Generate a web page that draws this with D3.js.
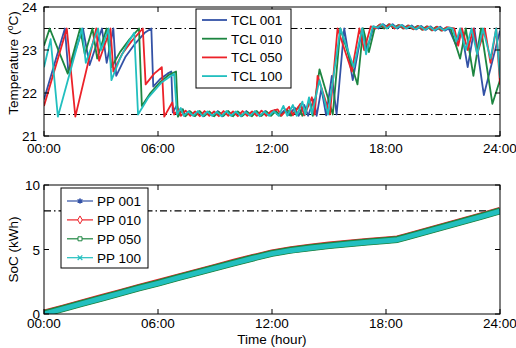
<!DOCTYPE html>
<html><head><meta charset="utf-8">
<script src="https://cdn.jsdelivr.net/npm/d3@7"></script>
<style>body{margin:0;background:#fff}svg{display:block}text{font-family:"Liberation Sans",Arial,sans-serif}</style>
</head><body><svg id="c" width="516" height="348"></svg>
<script>
// ---------- DATA ----------
const tempSeriesNames = ["TCL 001","TCL 010","TCL 050","TCL 100"];
const socSeriesNames = ["PP 001","PP 010","PP 050","PP 100"];
const timeTicks = [0,6,12,18,24];
const timeTickLabels = ["00:00","06:00","12:00","18:00","24:00"];
const tempTicks = [21,22,23,24];
const socTicks = [0,5,10];
const tempBounds = [21.5,23.5];
const socTarget = 8;

// [hour, temperature]
const tcl001 = [[0,21.85],[0.5,22.6],[1.1,23.5],[1.28,22.5],[2.05,23.5],[2.4,22.65],[3.05,23.5],[3.3,22.7],[3.65,23.5],[3.8,22.4],[4.3,22.85],[4.8,23.15],[5.3,23.4],[5.65,23.5],[5.75,22.15],[6.1,22.32],[6.5,22.45],[6.7,22.5],[6.78,21.55],[7.0,21.72],[7.1,21.5],[7.3,21.62],[7.4,21.47],
 [7.65,21.58],[7.9,21.47],[8.15,21.57],[8.4,21.46],[8.65,21.56],[8.9,21.47],[9.15,21.58],[9.4,21.46],[9.65,21.57],[9.9,21.47],[10.15,21.56],[10.4,21.46],[10.65,21.58],[10.9,21.48],[11.15,21.57],[11.4,21.47],[11.65,21.58],[11.9,21.48],
 [12.15,21.6],[12.4,21.48],[12.7,21.62],[12.9,21.48],[13.2,21.66],[13.4,21.47],[13.7,21.72],[13.9,21.47],[14.2,21.85],[14.35,21.47],[14.6,22.1],[14.85,21.48],[15.15,22.4],[15.4,21.5],[15.8,23.5],[16.25,22.3],[16.75,23.5],[17.0,23.0],[17.35,23.55],
 [17.6,23.5],[17.85,23.6],[18.1,23.52],[18.35,23.6],[18.6,23.5],[18.85,23.58],[19.1,23.5],[19.35,23.57],[19.6,23.48],[19.85,23.56],[20.1,23.47],[20.35,23.55],[20.6,23.45],[20.85,23.54],[21.1,23.45],[21.3,23.5],
 [21.7,23.1],[21.95,23.5],[22.3,22.6],[22.65,23.5],[23.15,21.95],[24,23.45]];
const tcl010 = [[0,23.1],[0.3,23.5],[1.25,22.45],[1.9,23.5],[2.15,22.9],[2.55,23.5],[2.8,22.8],[3.3,23.5],[3.55,22.6],[4.0,22.95],[4.5,23.25],[5.0,23.5],[5.15,21.7],[5.6,22.0],[6.1,22.25],[6.6,22.43],[6.95,22.5],[7.05,21.45],[7.3,21.62],[7.45,21.46],
 [7.7,21.57],[7.95,21.46],[8.2,21.58],[8.45,21.47],[8.7,21.57],[8.95,21.46],[9.2,21.56],[9.45,21.47],[9.7,21.58],[9.95,21.46],[10.2,21.57],[10.45,21.47],[10.7,21.56],[10.95,21.46],[11.2,21.58],[11.45,21.47],[11.7,21.57],[11.95,21.47],
 [12.2,21.58],[12.45,21.47],[12.8,21.62],[13.0,21.47],[13.4,21.68],[13.6,21.47],[14.0,21.8],[14.15,21.47],[14.5,22.55],[15.2,21.5],[15.6,23.5],[16.5,22.2],[16.8,23.5],[17.1,22.95],[17.4,23.5],
 [17.65,23.58],[17.9,23.5],[18.15,23.6],[18.4,23.51],[18.65,23.58],[18.9,23.5],[19.15,23.57],[19.4,23.49],[19.65,23.56],[19.9,23.47],[20.15,23.55],[20.4,23.46],[20.65,23.54],[20.9,23.45],[21.15,23.52],
 [21.4,23.5],[21.9,22.8],[22.2,23.5],[22.6,22.4],[23.0,23.5],[23.6,21.75],[24,22.3]];
const tcl050 = [[0,21.7],[1.2,23.5],[1.65,21.45],[2.75,23.5],[2.9,22.75],[3.5,23.5],[3.65,22.5],[4.1,22.9],[4.6,23.2],[5.2,23.5],[5.35,22.2],[5.8,22.45],[6.2,22.6],[6.33,21.45],[6.75,21.78],[6.85,21.5],[7.1,21.62],[7.2,21.47],
 [7.45,21.59],[7.7,21.47],[7.95,21.57],[8.2,21.46],[8.45,21.58],[8.7,21.47],[8.95,21.57],[9.2,21.46],[9.45,21.58],[9.7,21.47],[9.95,21.57],[10.2,21.46],[10.45,21.58],[10.7,21.47],[10.95,21.57],[11.2,21.47],[11.45,21.59],[11.7,21.47],[11.95,21.58],
 [12.3,21.62],[12.5,21.47],[12.9,21.68],[13.1,21.48],[13.5,21.75],[13.7,21.48],[14.1,21.9],[14.25,21.5],[14.4,22.4],[15.05,21.5],[15.45,23.5],[16.2,22.5],[16.6,23.5],[16.85,23.0],[17.2,23.55],
 [17.45,23.5],[17.7,23.6],[17.95,23.52],[18.2,23.6],[18.45,23.5],[18.7,23.58],[18.95,23.5],[19.2,23.57],[19.45,23.48],[19.7,23.56],[19.95,23.47],[20.2,23.55],[20.45,23.46],[20.7,23.54],[20.95,23.45],[21.2,23.53],
 [21.6,23.5],[21.8,23.1],[22.0,23.5],[22.3,23.0],[22.6,23.5],[22.8,22.9],[23.2,23.5],[23.5,22.7],[23.8,23.5],[24,22.2]];
const tcl100 = [[0,22.6],[0.35,23.25],[0.73,21.45],[2.0,23.5],[2.2,22.7],[2.85,23.5],[3.0,23.0],[3.4,23.5],[3.55,22.3],[4.0,22.8],[4.4,23.15],[4.75,23.4],[4.95,21.5],[5.5,21.9],[6.2,22.25],[6.85,22.45],[7.0,21.5],[7.2,21.65],[7.35,21.47],
 [7.6,21.57],[7.85,21.47],[8.1,21.58],[8.35,21.46],[8.6,21.57],[8.85,21.47],[9.1,21.56],[9.35,21.46],[9.6,21.58],[9.85,21.47],[10.1,21.57],[10.35,21.46],[10.6,21.56],[10.85,21.47],[11.1,21.58],[11.35,21.46],[11.6,21.57],[11.85,21.47],
 [12.1,21.58],[12.35,21.47],[12.6,21.7],[12.8,21.47],[13.1,21.72],[13.3,21.47],[13.6,21.8],[13.75,21.5],[13.95,21.9],[14.1,21.5],[14.5,22.3],[14.95,21.5],[15.6,23.5],[16.3,22.6],[16.75,23.5],[16.95,22.9],[17.3,23.55],
 [17.55,23.52],[17.8,23.6],[18.05,23.5],[18.3,23.59],[18.55,23.51],[18.8,23.58],[19.05,23.5],[19.3,23.56],[19.55,23.48],[19.8,23.55],[20.05,23.47],[20.3,23.54],[20.55,23.46],[20.8,23.53],[21.05,23.46],[21.3,23.52],
 [21.5,23.5],[21.7,23.2],[21.9,23.5],[22.2,23.0],[22.5,23.5],[22.8,22.9],[23.1,23.5],[23.5,22.8],[23.8,23.5],[24,22.35]];

// [hour, SoC kWh]
const pp001 = [[0,0.0],[1,0.4],[2,0.8],[3,1.2],[4,1.6],[5,2.0],[6,2.38],[7,2.78],[8,3.17],[9,3.56],[10,3.95],[11,4.32],[12,4.68],[13,4.93],[14,5.12],[15,5.28],[16,5.43],[17,5.56],[18,5.68],[18.6,5.76],[19,5.92],[20,6.33],[21,6.73],[22,7.14],[23,7.55],[24,7.97]];
const pp010 = [[0,0.1],[1,0.5],[2,0.9],[3,1.3],[4,1.7],[5,2.1],[6,2.48],[7,2.88],[8,3.27],[9,3.66],[10,4.05],[11,4.42],[12,4.78],[13,5.03],[14,5.22],[15,5.38],[16,5.53],[17,5.66],[18,5.78],[18.6,5.86],[19,6.02],[20,6.43],[21,6.83],[22,7.24],[23,7.65],[24,8.07]];
const pp050 = [[0,0.02],[1,0.42],[2,0.82],[3,1.22],[4,1.62],[5,2.02],[6,2.4],[7,2.8],[8,3.19],[9,3.58],[10,3.97],[11,4.34],[12,4.7],[13,4.95],[14,5.14],[15,5.3],[16,5.45],[17,5.58],[18,5.7],[18.6,5.78],[19,5.94],[20,6.35],[21,6.75],[22,7.16],[23,7.57],[24,7.99]];
const pp100 = [[0,0.0],[1,0.4],[2,0.8],[3,1.2],[4,1.6],[5,2.0],[6,2.38],[7,2.78],[8,3.17],[9,3.56],[10,3.95],[11,4.32],[12,4.68],[13,4.93],[14,5.12],[15,5.28],[16,5.43],[17,5.56],[18,5.68],[18.6,5.76],[19,5.92],[20,6.33],[21,6.73],[22,7.14],[23,7.55],[24,7.97]];

// ---------- DRAW ----------
const colors = ["#3352a6","#1d8540","#ec2229","#22bfbf"];
const socColors = ["#3352a6","#ec2229","#1d8540","#22bfbf"];
const svg = d3.select("#c");
const L = 44, R = 500;
const FS = "13.5px";
const x = d3.scaleLinear().domain([0,24]).range([L,R]);
const yT = d3.scaleLinear().domain([21,24]).range([136,7]);
const yS = d3.scaleLinear().domain([0,10]).range([314,185]);

function frame(y, ticks, top, bot, xLabDy, yLabDx){
  const g = svg.append("g");
  timeTicks.forEach(t=>{
    g.append("line").attr("x1",x(t)).attr("x2",x(t)).attr("y1",bot).attr("y2",bot-5).attr("stroke","#000");
    g.append("line").attr("x1",x(t)).attr("x2",x(t)).attr("y1",top).attr("y2",top+5).attr("stroke","#000");
  });
  ticks.forEach(t=>{
    g.append("line").attr("x1",L).attr("x2",L+5).attr("y1",y(t)).attr("y2",y(t)).attr("stroke","#000");
    g.append("line").attr("x1",R).attr("x2",R-5).attr("y1",y(t)).attr("y2",y(t)).attr("stroke","#000");
    g.append("text").attr("x",L-yLabDx).attr("y",y(t)+5).attr("text-anchor","end").attr("font-size",FS).text(t);
  });
  timeTicks.forEach((t,i)=>{
    g.append("text").attr("x",x(t)).attr("y",bot+xLabDy).attr("text-anchor","middle").attr("font-size",FS).text(timeTickLabels[i]);
  });
  g.append("rect").attr("x",L).attr("y",top).attr("width",R-L).attr("height",bot-top).attr("fill","none").attr("stroke","#000").attr("stroke-width",1);
}

// top plot
svg.append("clipPath").attr("id","ct").append("rect").attr("x",L).attr("y",7).attr("width",R-L).attr("height",129);
const gT = svg.append("g").attr("clip-path","url(#ct)");
tempBounds.forEach(b=>{
  gT.append("line").attr("x1",L).attr("x2",R).attr("y1",yT(b)).attr("y2",yT(b)).attr("stroke","#000").attr("stroke-width",1.2).attr("stroke-dasharray","7,3,1.5,3");
});
const lineT = d3.line().x(d=>x(d[0])).y(d=>yT(d[1]));
[tcl001,tcl010,tcl050,tcl100].forEach((s,i)=>{
  gT.append("path").datum(s).attr("d",lineT).attr("fill","none").attr("stroke",colors[i]).attr("stroke-width",1.8).attr("stroke-linejoin","round");
});
frame(yT, tempTicks, 7, 136, 17, 7);

// top legend
const lg = svg.append("g");
lg.append("rect").attr("x",196).attr("y",9).attr("width",95).attr("height",79).attr("fill","#fff").attr("stroke","#000");
tempSeriesNames.forEach((n,i)=>{
  const cy = 20 + i*18.7;
  lg.append("line").attr("x1",202).attr("x2",227).attr("y1",cy).attr("y2",cy).attr("stroke",colors[i]).attr("stroke-width",1.8);
  lg.append("text").attr("x",231).attr("y",cy+5).attr("font-size",FS).text(n);
});

// y label top
const yl = svg.append("text").attr("transform","translate(18,63) rotate(-90)").attr("text-anchor","middle").attr("font-size",FS);
yl.append("tspan").text("Temperature (");
yl.append("tspan").attr("dy",-5).attr("font-size","9px").text("o");
yl.append("tspan").attr("dy",5).text("C)");

// bottom plot
svg.append("clipPath").attr("id","cb").append("rect").attr("x",L).attr("y",185).attr("width",R-L).attr("height",129);
const gB = svg.append("g").attr("clip-path","url(#cb)");
gB.append("line").attr("x1",L).attr("x2",R).attr("y1",yS(socTarget)).attr("y2",yS(socTarget)).attr("stroke","#000").attr("stroke-width",1.2).attr("stroke-dasharray","7,3,1.5,3");
const lineS = d3.line().x(d=>x(d[0])).y(d=>yS(d[1]));
const socW = [5.5,6,7,5];
[pp001,pp010,pp050,pp100].forEach((s,i)=>{
  gB.append("path").datum(s).attr("d",lineS).attr("fill","none").attr("stroke",socColors[i]).attr("stroke-width",socW[i]).attr("stroke-linejoin","round");
});
frame(yS, socTicks, 185, 314, 14, 4);

// bottom legend
const lb = svg.append("g");
lb.append("rect").attr("x",61).attr("y",188).attr("width",87).attr("height",80).attr("fill","#fff").attr("stroke","#000");
socSeriesNames.forEach((n,i)=>{
  const cy = 201 + i*18.9;
  lb.append("line").attr("x1",67).attr("x2",93).attr("y1",cy).attr("y2",cy).attr("stroke",socColors[i]).attr("stroke-width",1.2);
  const m = lb.append("g").attr("transform",`translate(80,${cy})`);
  if(i===0){
    m.append("path").attr("d",d3.symbol(d3.symbolAsterisk,22)()).attr("stroke",socColors[i]).attr("stroke-width",1.2).attr("fill","none");
    m.append("circle").attr("r",1.8).attr("fill",socColors[i]);
  } else if(i===1){
    m.append("path").attr("d",d3.symbol(d3.symbolDiamond,18)()).attr("stroke",socColors[i]).attr("stroke-width",1).attr("fill","#fff");
  } else if(i===2){
    m.append("path").attr("d",d3.symbol(d3.symbolSquare,16)()).attr("stroke",socColors[i]).attr("stroke-width",1).attr("fill","#fff");
  } else {
    m.append("path").attr("d",d3.symbol(d3.symbolTimes,16)()).attr("stroke",socColors[i]).attr("stroke-width",1.2).attr("fill","none");
  }
  lb.append("text").attr("x",97).attr("y",cy+5).attr("font-size",FS).text(n);
});

svg.append("text").attr("transform","translate(18,249.5) rotate(-90)").attr("text-anchor","middle").attr("font-size",FS).text("SoC (kWh)");
svg.append("text").attr("x",272).attr("y",344).attr("text-anchor","middle").attr("font-size",FS).text("Time (hour)");
</script></body></html>
